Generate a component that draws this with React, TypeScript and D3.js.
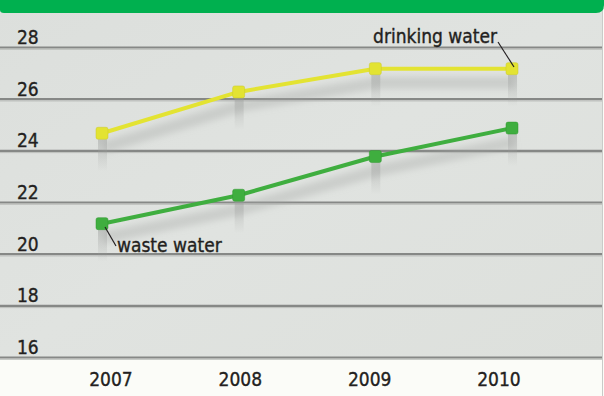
import React from "react";
import * as d3 from "d3";

const years = [2007, 2008, 2009, 2010];
const drinkingWater = [24.7, 26.3, 27.2, 27.2];
const wasteWater = [21.2, 22.3, 23.8, 24.9];
const yTicks = [16, 18, 20, 22, 24, 26, 28];
const seriesNames = ["drinking water", "waste water"];

const W = 604;
const H = 396;
const FONT = "'Liberation Sans Narrow', 'DejaVu Sans Condensed', sans-serif";
const TXT = { fontFamily: FONT, fontSize: 19, fill: "#231f20", stroke: "#231f20", strokeWidth: 0.35 };

export default function App() {
  const x = d3.scalePoint<number>().domain(years).range([102, 512]);
  const xLabel = d3.scalePoint<number>().domain(years).range([111, 499]);
  const y = d3.scaleLinear().domain([16, 28]).range([358, 48]);

  const line = d3
    .line<number>()
    .x((_, i) => x(years[i]) as number)
    .y((d) => y(d));

  const shadowLine = d3
    .line<number>()
    .x((_, i) => (x(years[i]) as number) + 2)
    .y((d) => y(d) + 14);

  const series = [
    { name: seriesNames[0], values: drinkingWater, color: "#e3e332", dark: "#c9c92a" },
    { name: seriesNames[1], values: wasteWater, color: "#3fae3f", dark: "#2f962f" },
  ];

  return (
    <div style={{ position: "absolute", left: 0, top: 0, width: W, height: H }}>
      <svg width={W} height={H} style={{ display: "block" }}>
        <defs>
          <linearGradient id="bg" x1="0" y1="0" x2="1" y2="1">
            <stop offset="0" stopColor="#dcdfdc" />
            <stop offset="0.5" stopColor="#e0e3e0" />
            <stop offset="1" stopColor="#dde0dc" />
          </linearGradient>
          <linearGradient id="drop" x1="0" y1="0" x2="0" y2="1">
            <stop offset="0" stopColor="#9a9c9a" stopOpacity="0.45" />
            <stop offset="1" stopColor="#9a9c9a" stopOpacity="0" />
          </linearGradient>
          <filter id="blur" x="-10%" y="-50%" width="120%" height="200%">
            <feGaussianBlur stdDeviation="3" />
          </filter>
        </defs>
        <rect x={0} y={0} width={W} height={H} fill="#fbfcf8" />
        <rect x={0} y={0} width={602} height={359} fill="url(#bg)" />
        <line x1={602.5} x2={602.5} y1={0} y2={H} stroke="#c9cbc8" strokeWidth={1} />
        {/* header band */}
        <path d={`M0,0 H604 V5 Q604,13 596,13 H4 Q0,13 0,10 Z`} fill="#00b04f" />

        {/* grid lines */}
        {yTicks.map((t) => (
          <g key={t}>
            <line x1={0} x2={602} y1={y(t) - 0.5} y2={y(t) - 0.5} stroke="#868886" strokeWidth={2.2} />
            <line x1={0} x2={602} y1={y(t) + 1.3} y2={y(t) + 1.3} stroke="#bcbebb" strokeWidth={1} />
            <text x={17} y={y(t) - 4} {...TXT}>
              {t}
            </text>
          </g>
        ))}

        {/* shadows */}
        {series.map((s) => (
          <g key={s.name + "sh"}>
            <path d={shadowLine(s.values) || ""} fill="none" stroke="#a3a5a3" strokeOpacity={0.35} strokeWidth={12} filter="url(#blur)" />
            {s.values.map((v, i) => (
              <rect key={i} x={(x(years[i]) as number) - 4} y={y(v) + 6} width={9} height={32} fill="url(#drop)" />
            ))}
          </g>
        ))}

        {/* lines */}
        {series.map((s) => (
          <g key={s.name}>
            <path d={line(s.values) || ""} fill="none" stroke={s.color} strokeWidth={4} strokeLinejoin="round" />
            {s.values.map((v, i) => (
              <rect
                key={i}
                x={(x(years[i]) as number) - 6}
                y={y(v) - 6}
                width={12}
                height={12}
                rx={2}
                fill={s.color}
                stroke={s.dark}
                strokeWidth={0.5}
              />
            ))}
          </g>
        ))}

        {/* annotations */}
        <text x={497} y={43} textAnchor="end" {...TXT}>
          {seriesNames[0]}
        </text>
        <line x1={498} y1={42} x2={514} y2={67} stroke="#231f20" strokeWidth={1.2} />
        <text x={117} y={252} {...TXT}>
          {seriesNames[1]}
        </text>
        <line x1={105} y1={227} x2={116} y2={246} stroke="#231f20" strokeWidth={1.2} />

        {/* x axis labels */}
        {years.map((yr) => (
          <text key={yr} x={xLabel(yr) as number} y={386} textAnchor="middle" {...TXT}>
            {yr}
          </text>
        ))}
      </svg>
    </div>
  );
}
